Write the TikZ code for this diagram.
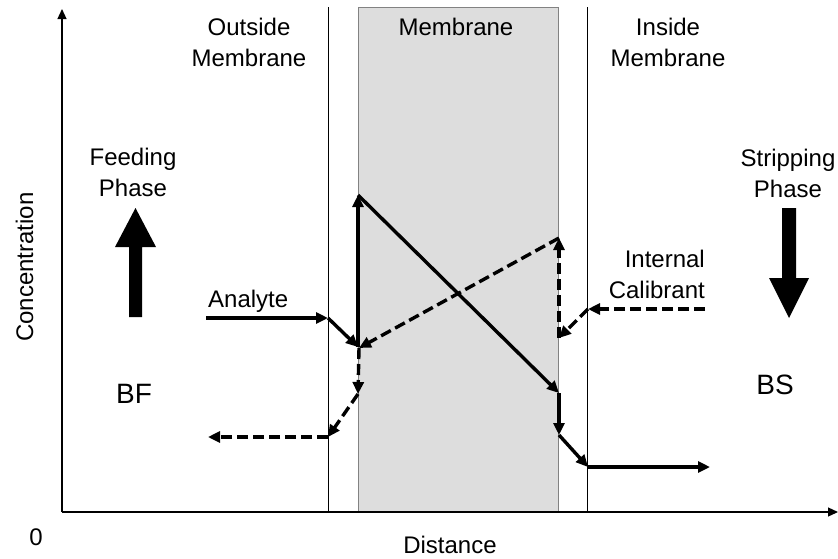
\documentclass[tikz,border=0pt]{standalone}
\usepackage{fontspec}
\setmainfont{Liberation Sans}
\usetikzlibrary{arrows.meta}
\definecolor{membfill}{RGB}{221,221,221}
\definecolor{membdraw}{RGB}{130,130,130}
\begin{document}
\begin{tikzpicture}[x=1pt,y=-1pt,
  lbl/.style={font=\fontsize{24}{31}\selectfont, inner sep=0pt, align=center},
  biglbl/.style={font=\fontsize{28}{34}\selectfont, inner sep=0pt},
  axis/.style={line width=1.2pt, -{Triangle[length=10pt,width=9pt]}},
  wall/.style={line width=1pt},
  flow/.style={line width=3.4pt, -{Triangle[length=12pt,width=11pt]}},
  dflow/.style={flow, dash pattern=on 11pt off 5pt},
  bigarrow/.style={fill=black, draw=none}]
\useasboundingbox (0,0) rectangle (838,558);
% membrane
\node[draw=membdraw, fill=membfill, line width=1pt, minimum width=200pt, minimum height=505pt, inner sep=0pt, anchor=north west] (memb) at (358,7) {};
% walls
\coordinate (wl0) at (328,7); \coordinate (wl1) at (328,512);
\coordinate (wr0) at (587,7); \coordinate (wr1) at (587,512);
\draw[wall] (wl0) -- (wl1);
\draw[wall] (wr0) -- (wr1);
% axes
\coordinate (o) at (62,512);
\coordinate (ytip) at (62,9);
\coordinate (xtip) at (838,512);
\draw[axis] (o) -- (ytip);
\draw[axis] (o) -- (xtip);
% labels
\node[lbl, anchor=north] (outside) at (249,17.5) {Outside\\Membrane};
\node[lbl, anchor=base] (membl) at (456,35) {Membrane};
\node[lbl, anchor=north] (inside) at (668,17.5) {Inside\\Membrane};
\node[lbl, anchor=north] (feed) at (133,147.5) {Feeding\\Phase};
\node[lbl, anchor=north] (strip) at (788,148.5) {Stripping\\Phase};
\node[lbl, anchor=north east, align=right] (ical) at (705,249.5) {Internal\\Calibrant};
\node[lbl, anchor=base west] (analyte) at (208,307) {Analyte};
\node[biglbl, anchor=base] (bf) at (134,403) {BF};
\node[biglbl, anchor=base] (bs) at (775,394) {BS};
\node[lbl, anchor=base] (zero) at (36,545) {0};
\node[lbl, anchor=base] (dist) at (450,553) {Distance};
\node[lbl, anchor=base, rotate=90] (conc) at (33,267) {Concentration};
% big phase arrows
\fill[bigarrow] (129,317) -- (142,317) -- (142,247) -- (156,247) -- (135.5,208) -- (115,247) -- (129,247) -- cycle;
\fill[bigarrow] (782,208) -- (796,208) -- (796,278) -- (809,278) -- (789,318) -- (769,278) -- (782,278) -- cycle;
% analyte path
\coordinate (a0) at (206,318);
\coordinate (a1) at (328,318);
\coordinate (a2) at (358,347);
\coordinate (a3) at (358,195);
\coordinate (a4) at (559,393);
\coordinate (a5) at (559,435);
\coordinate (a6) at (588,467);
\coordinate (a7) at (710,467);
\draw[flow] (a0) -- (a1);
\draw[flow] (a1) -- (a2);
\draw[flow] (a2) -- (a3);
\draw[flow] (a3) -- (a4);
\draw[flow] (a4) -- (a5);
\draw[flow] (a5) -- (a6);
\draw[flow] (a6) -- (a7);
% internal calibrant path
\coordinate (c0) at (705,309);
\coordinate (c1) at (588,309);
\coordinate (c2) at (559,338);
\coordinate (c3) at (559,238);
\coordinate (c4) at (359,348);
\coordinate (c5) at (358,394);
\coordinate (c6) at (328,437);
\coordinate (c7) at (208,437);
\draw[dflow] (c0) -- (c1);
\draw[dflow] (c1) -- (c2);
\draw[dflow] (c2) -- (c3);
\draw[dflow] (c3) -- (c4);
\draw[dflow] (c4) -- (c5);
\draw[dflow] (c5) -- (c6);
\draw[dflow] (c6) -- (c7);
\end{tikzpicture}
\end{document}
